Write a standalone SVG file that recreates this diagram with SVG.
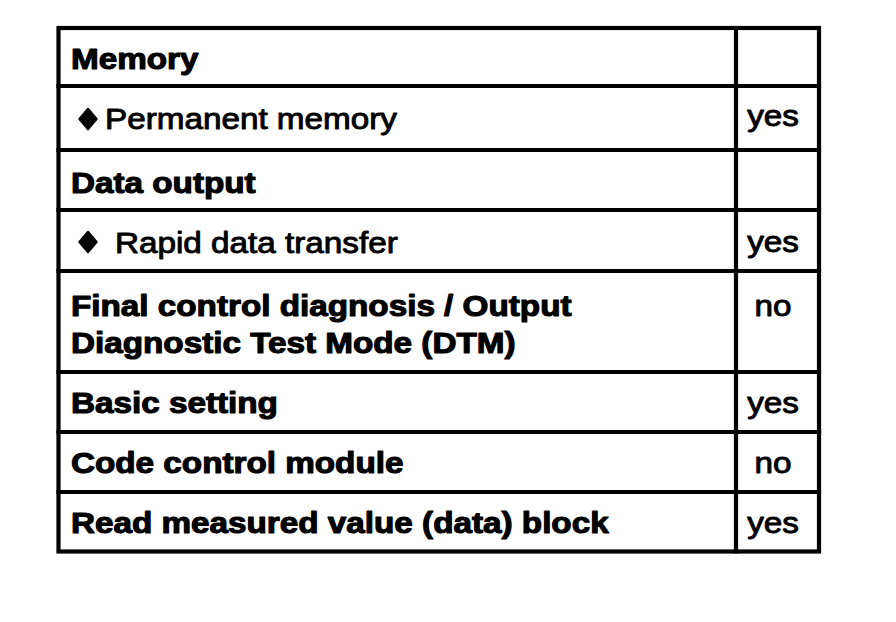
<svg xmlns="http://www.w3.org/2000/svg" width="896" height="622" viewBox="0 0 896 622">
<style>
.g{stroke:#000;stroke-width:4.2;fill:none;stroke-linecap:square}
.b{font-family:"Liberation Sans",Arial,sans-serif;font-weight:bold;font-size:29px;fill:#000;stroke:#000;stroke-width:1.1;stroke-linejoin:round}
.r{font-family:"Liberation Sans",Arial,sans-serif;font-weight:normal;font-size:29px;fill:#000;stroke:#000;stroke-width:0.9;stroke-linejoin:round}
.v{font-family:"Liberation Sans",Arial,sans-serif;font-weight:normal;font-size:29px;fill:#000;stroke:#000;stroke-width:0.9;stroke-linejoin:round;text-anchor:middle}
.d{fill:#000;stroke:#000;stroke-width:2.5;stroke-linejoin:round}
</style>
<rect width="896" height="622" fill="#fff"/>
<g id="grid">
<rect class="g" x="58.5" y="28" width="760.5" height="523.5"/>
<line class="g" x1="736" y1="28" x2="736" y2="551.5"/>
<line class="g" x1="58.5" y1="86" x2="819" y2="86"/>
<line class="g" x1="58.5" y1="150" x2="819" y2="150"/>
<line class="g" x1="58.5" y1="210" x2="819" y2="210"/>
<line class="g" x1="58.5" y1="271" x2="819" y2="271"/>
<line class="g" x1="58.5" y1="372" x2="819" y2="372"/>
<line class="g" x1="58.5" y1="432" x2="819" y2="432"/>
<line class="g" x1="58.5" y1="492" x2="819" y2="492"/>
</g>
<g id="row-memory">
<text class="b" transform="translate(71,69) scale(1.147,1)">Memory</text>
</g>
<g id="row-permanent">
<polygon class="d" points="88,109 96.5,119 88,129 79.5,119"/>
<text class="r" transform="translate(105,129) scale(1.147,1)">Permanent memory</text>
<text class="v" transform="translate(773,126) scale(1.147,1)">yes</text>
</g>
<g id="row-dataoutput">
<text class="b" transform="translate(71,193) scale(1.147,1)">Data output</text>
</g>
<g id="row-rapid">
<polygon class="d" points="88,232 96.5,242 88,252 79.5,242"/>
<text class="r" transform="translate(115,253) scale(1.147,1)">Rapid data transfer</text>
<text class="v" transform="translate(773,252) scale(1.147,1)">yes</text>
</g>
<g id="row-final">
<text class="b" transform="translate(71,316) scale(1.147,1)">Final control diagnosis / Output</text>
<text class="b" transform="translate(71,353) scale(1.147,1)">Diagnostic Test Mode (DTM)</text>
<text class="v" transform="translate(773,316) scale(1.147,1)">no</text>
</g>
<g id="row-basic">
<text class="b" transform="translate(71,413) scale(1.147,1)">Basic setting</text>
<text class="v" transform="translate(773,413) scale(1.147,1)">yes</text>
</g>
<g id="row-code">
<text class="b" transform="translate(71,473) scale(1.147,1)">Code control module</text>
<text class="v" transform="translate(773,473) scale(1.147,1)">no</text>
</g>
<g id="row-read">
<text class="b" transform="translate(71,533) scale(1.147,1)">Read measured value (data) block</text>
<text class="v" transform="translate(773,533) scale(1.147,1)">yes</text>
</g>
<g id="connectors"></g>
</svg>
